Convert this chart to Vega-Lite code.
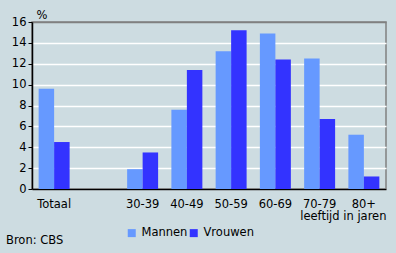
{
  "$schema": "https://vega.github.io/schema/vega-lite/v6.json",
  "autosize": "none",
  "width": 354,
  "height": 167,
  "padding": {"left": 32, "top": 22, "right": 10, "bottom": 64},
  "background": "#CDDCE1",
  "config": {
    "font": "DejaVu Sans",
    "view": {"stroke": "#808080", "strokeWidth": 1.5},
    "axis": {"labelFont": "DejaVu Sans", "titleFont": "DejaVu Sans", "labelFontSize": 11.5, "titleFontSize": 11.5, "labelColor": "black", "titleColor": "black", "titleFontWeight": "normal"},
    "legend": {"labelFont": "DejaVu Sans", "labelFontSize": 11.5, "labelColor": "black"}
  },
  "title": {"text": "Bron: CBS", "orient": "bottom", "anchor": "start", "frame": "group", "dx": -26, "offset": -4, "fontSize": 11.5, "fontWeight": "normal", "font": "DejaVu Sans", "color": "black"},
  "data": {"values": [
    {"cat": "Totaal", "sex": "Mannen", "v": 9.6},
    {"cat": "Totaal", "sex": "Vrouwen", "v": 4.5},
    {"cat": "30-39", "sex": "Mannen", "v": 1.9},
    {"cat": "30-39", "sex": "Vrouwen", "v": 3.5},
    {"cat": "40-49", "sex": "Mannen", "v": 7.6},
    {"cat": "40-49", "sex": "Vrouwen", "v": 11.4},
    {"cat": "50-59", "sex": "Mannen", "v": 13.2},
    {"cat": "50-59", "sex": "Vrouwen", "v": 15.2},
    {"cat": "60-69", "sex": "Mannen", "v": 14.9},
    {"cat": "60-69", "sex": "Vrouwen", "v": 12.4},
    {"cat": "70-79", "sex": "Mannen", "v": 12.5},
    {"cat": "70-79", "sex": "Vrouwen", "v": 6.7},
    {"cat": "80+", "sex": "Mannen", "v": 5.2},
    {"cat": "80+", "sex": "Vrouwen", "v": 1.2}
  ]},
  "mark": {"type": "bar"},
  "encoding": {
    "x": {
      "field": "cat", "type": "nominal",
      "scale": {"domain": ["Totaal", " ", "30-39", "40-49", "50-59", "60-69", "70-79", "80+"], "paddingInner": 0.3, "paddingOuter": 0.15},
      "axis": {"labelAngle": 0, "ticks": false, "domainColor": "black", "domainWidth": 1.5, "labelPadding": 9, "title": "leeftijd in jaren", "titleAnchor": "end", "titlePadding": 1}
    },
    "xOffset": {"field": "sex", "type": "nominal", "scale": {"paddingInner": 0, "paddingOuter": 0}},
    "y": {
      "field": "v", "type": "quantitative",
      "scale": {"domain": [0, 16], "nice": false},
      "axis": {"values": [0, 2, 4, 6, 8, 10, 12, 14, 16], "gridColor": {"condition": {"test": "datum.value == 16", "value": "#808080"}, "value": "white"}, "gridWidth": 1.5, "domainColor": "black", "domainWidth": 1.5, "tickColor": "black", "tickSize": 4, "labelPadding": 2, "title": "%", "titleAngle": 0, "titleAlign": "left", "titleX": 4, "titleY": -4, "titleBaseline": "alphabetic"}
    },
    "color": {
      "field": "sex", "type": "nominal",
      "scale": {"domain": ["Mannen", "Vrouwen"], "range": ["#6699FF", "#3333FF"]},
      "legend": {"title": null, "orient": "none", "direction": "horizontal", "legendX": 94, "legendY": 205, "symbolType": "square", "symbolSize": 64, "symbolStrokeWidth": 0, "symbolOpacity": 1, "labelOffset": 4, "columnPadding": 0}
    }
  }
}
